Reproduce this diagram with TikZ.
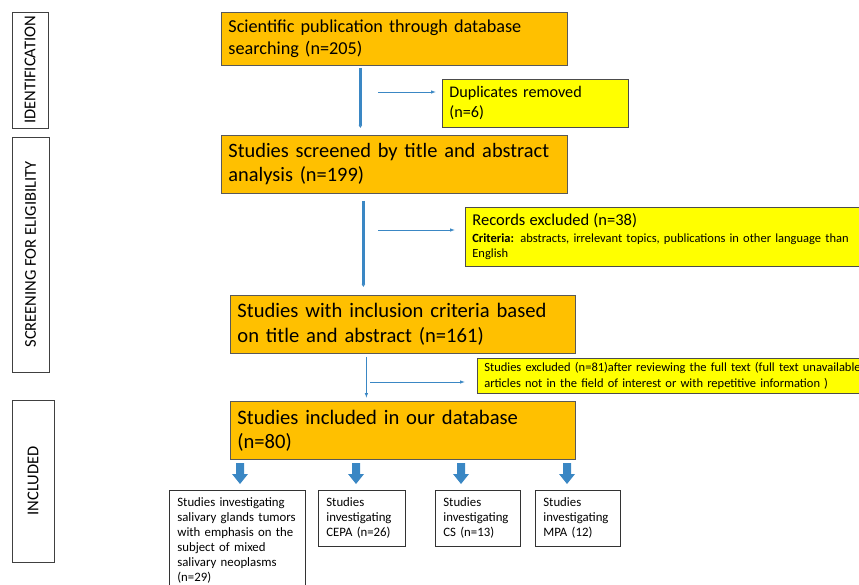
\documentclass[tikz,border=0pt]{standalone}
\usepackage{fontspec}
\setmainfont{Carlito}
\usetikzlibrary{arrows.meta,calc}
\definecolor{orangeC}{HTML}{FFC000}
\definecolor{yellowC}{HTML}{FFFF00}
\definecolor{blueA}{HTML}{3A87C4}
\newcommand\myblockarrow[1]{\fill[blueA] (#1-4,463) -- (#1+4,463) -- (#1+4,474) -- (#1+8,474) -- (#1,484) -- (#1-8,474) -- (#1-4,474) -- cycle;}
\begin{document}
\begin{tikzpicture}[x=1pt,y=-1pt,
  orangebox/.style={draw=black!65, fill=orangeC, line width=0.8pt, anchor=north west, align=left, inner xsep=7pt, inner ysep=0pt},
  yellowbox/.style={draw=black!70, fill=yellowC, line width=0.7pt, anchor=north west, align=left, inner xsep=7pt, inner ysep=0pt},
  whitebox/.style={draw=black!80, fill=white, line width=0.7pt, anchor=north west, align=left, inner xsep=8pt, inner ysep=0pt, font=\fontsize{12.8}{15}\selectfont},
  sidebox/.style={draw=black!75, line width=0.8pt, rotate=90, inner sep=0pt, font=\fontsize{16.5}{18}\selectfont},
  thinarrow/.style={blueA, line width=0.8pt, -{Latex[length=5pt,width=3.5pt]}},
  thickarrow/.style={blueA, line width=2.8pt, -{Latex[length=3pt,width=4pt]}}]
\useasboundingbox (0,0) rectangle (859,585);
% side labels
\node[sidebox, minimum width=116pt, minimum height=36pt] (sid) at (30,70) {IDENTIFICATION};
\node[sidebox, minimum width=235pt, minimum height=37pt] (ssc) at (30.5,254.5) {SCREENING FOR ELIGIBILITY};
\node[sidebox, minimum width=162pt, minimum height=42pt] (sin) at (33,481) {INCLUDED};
% main boxes
\node[orangebox, minimum width=346pt, minimum height=53pt, text width=332pt, font=\fontsize{18.2}{22}\selectfont] (b1) at (221,12) {Scientific publication through database\\searching (n=205)};
\node[orangebox, minimum width=346pt, minimum height=58pt, text width=332pt, font=\fontsize{20.4}{24}\selectfont] (b2) at (221,135) {Studies screened by title and abstract\\analysis (n=199)};
\node[orangebox, minimum width=345pt, minimum height=58pt, text width=331pt, font=\fontsize{20.6}{25}\selectfont] (b3) at (230,295) {Studies with inclusion criteria based\\on title and abstract (n=161)};
\node[orangebox, minimum width=345pt, minimum height=58pt, text width=331pt, font=\fontsize{20.6}{24}\selectfont] (b4) at (230,401) {Studies included in our database\\(n=80)};
% exclusion boxes
\node[yellowbox, minimum width=186pt, minimum height=48pt, text width=172pt, font=\fontsize{16.2}{20}\selectfont] (y1) at (442,79) {Duplicates removed\\(n=6)};
\node[yellowbox, minimum width=420pt, minimum height=59pt, text width=406pt, font=\fontsize{12.5}{15}\selectfont] (y2) at (465,207) {{\fontsize{16.5}{17}\selectfont Records excluded (n=38)}\\[2pt]\textbf{Criteria:} abstracts, irrelevant topics, publications in other language than\\English};
\node[yellowbox, minimum width=420pt, minimum height=35pt, text width=406pt, font=\fontsize{12.5}{16}\selectfont] (y3) at (477,358) {Studies excluded (n=81)after reviewing the full text (full text unavailable,\\articles not in the field of interest or with repetitive information )};
% bottom boxes
\node[whitebox, minimum width=136pt, minimum height=101pt, text width=120pt] (c1) at (169,490) {Studies investigating\\salivary glands tumors\\with emphasis on the\\subject of mixed\\salivary neoplasms\\(n=29)};
\node[whitebox, minimum width=87pt, minimum height=56pt, text width=71pt] (c2) at (318,490) {Studies\\investigating\\CEPA (n=26)};
\node[whitebox, minimum width=85pt, minimum height=56pt, text width=69pt] (c3) at (435,490) {Studies\\investigating\\CS (n=13)};
\node[whitebox, minimum width=85pt, minimum height=56pt, text width=69pt] (c4) at (535,490) {Studies\\investigating\\MPA (12)};
% vertical connectors
\draw[thickarrow, shorten <=2pt, shorten >=7pt] ([xshift=-34pt]b1.south) -- ([xshift=-34pt]b1.south |- b2.north);
\draw[thickarrow, shorten <=7pt, shorten >=8pt] ([xshift=-31pt]b2.south) -- ([xshift=-31pt]b2.south |- b3.north);
\draw[thinarrow, shorten <=3pt, shorten >=3pt] ([xshift=-36.5pt]b3.south) -- ([xshift=-36.5pt]b4.north);
% horizontal connectors
\coordinate (h1) at (378,92);
\coordinate (h2) at (378,230);
\coordinate (h3) at (370,382);
\draw[thinarrow, shorten >=6pt] (h1) -- (h1 -| y1.west);
\draw[thinarrow, shorten >=10pt] (h2) -- (h2 -| y2.west);
\draw[thinarrow, shorten >=12pt] (h3) -- (h3 -| y3.west);
% block arrows
\myblockarrow{240}
\myblockarrow{356}
\myblockarrow{461}
\myblockarrow{567}
\end{tikzpicture}
\end{document}
